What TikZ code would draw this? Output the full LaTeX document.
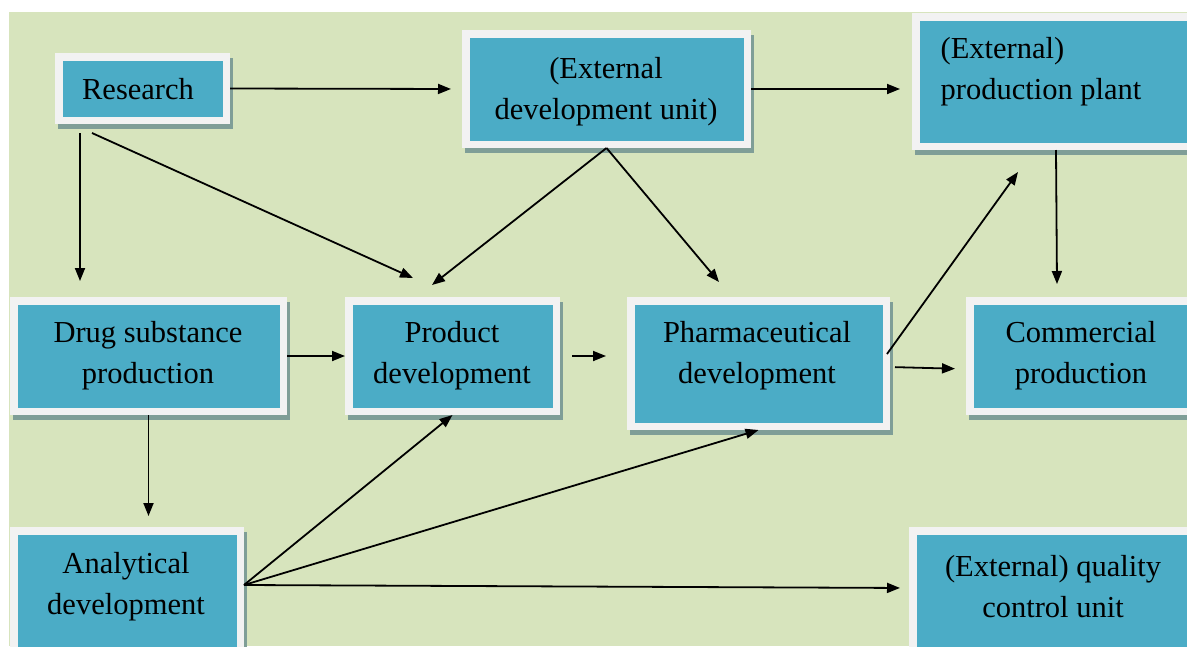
\documentclass[tikz,border=0pt]{standalone}
\usepackage{fontspec}
\setmainfont{Liberation Serif}
\usepackage{xcolor}
\usepackage{tikz}
\usetikzlibrary{arrows.meta,shadows}
\definecolor{bggreen}{HTML}{D7E4BD}
\definecolor{boxblue}{HTML}{4BACC6}
\definecolor{boxwhite}{HTML}{F2F2F2}
\definecolor{shadowc}{HTML}{7F9E97}
\tikzset{
	box/.style={draw=boxwhite, fill=boxblue, line width=7.5pt, inner sep=0pt,
		drop shadow={shadow xshift=3pt, shadow yshift=-5pt, fill=shadowc, draw=shadowc, line width=7.5pt, opacity=1}},
	txt/.style={align=center, font=\fontsize{30.5}{41}\selectfont},
	arr/.style={line width=1.8pt, -{Triangle[length=13pt,width=10pt]}}
}

\begin{document}
\begin{tikzpicture}[x=1pt, y=-1pt]
	\useasboundingbox (0,0) rectangle (1187,646);
	\clip (0,0) rectangle (1187,646);
	\fill[bggreen] (9,12) rectangle (1187,646);
	\node[box, minimum width=167.5pt, minimum height=63.5pt] (research) at (142.5,88.5) {};
	\node[box, minimum width=281.5pt, minimum height=110.5pt] (extdev) at (606.5,89) {};
	\node[box, minimum width=280.5pt, minimum height=129.5pt] (plant) at (1056,81.5) {};
	\node[box, minimum width=269.5pt, minimum height=110.5pt] (drug) at (148.5,356) {};
	\node[box, minimum width=207.5pt, minimum height=110.5pt] (product) at (452.5,356) {};
	\node[box, minimum width=255.5pt, minimum height=125.5pt] (pharma) at (758.5,363.5) {};
	\node[box, minimum width=226.5pt, minimum height=110.5pt] (commercial) at (1083,356) {};
	\node[box, minimum width=226.5pt, minimum height=125.5pt] (analytical) at (127,593.5) {};
	\node[box, minimum width=283.5pt, minimum height=125.5pt] (quality) at (1054.5,593.5) {};
	\node[txt] (researchtext) at (138,89) {Research};
	\node[txt] (extdevtext) at (606,92) {(External\\development unit)};
	\node[txt, align=left] (planttext) at (1041,72) {(External)\\production plant};
	\node[txt] (drugtext) at (148,356) {Drug substance\\production};
	\node[txt] (producttext) at (452,356) {Product\\development};
	\node[txt] (pharmatext) at (757,356) {Pharmaceutical\\development};
	\node[txt] (commercialtext) at (1081,356) {Commercial\\production};
	\node[txt] (analyticaltext) at (126,587) {Analytical\\development};
	\node[txt] (qualitytext) at (1053,587) {(External) quality\\control unit};
	\draw[arr, shorten >=11pt] (research.east) -- (extdev.west);
	\draw[arr, shorten >=12pt] (extdev.east) -- (extdev.east -| plant.west);
	\draw[arr, shorten <=9pt, shorten >=16pt] ([xshift=25pt]research.south west) -- ([xshift=25pt]research.south west |- drug.north);
	\draw[arr] ([shift={(37,9)}]research.south west) -- ([shift={(68,-19)}]product.north west);
	\draw[arr] (extdev.south) -- ([shift={(87,-12)}]product.north west);
	\draw[arr] (extdev.south) -- ([shift={(92,-15)}]pharma.north west);
	\draw[arr] (drug.east) -- (product.west);
	\draw[arr, shorten <=12pt, shorten >=21pt] (product.east) -- (product.east -| pharma.west);
	\draw[arr, shorten <=5pt, shorten >=11pt] ([yshift=-3.5pt]pharma.east) -- ([yshift=-13pt]commercial.west);
	\draw[arr] ([shift={(-3,-9.5)}]pharma.east) -- ([shift={(106,22)}]plant.south west);
	\draw[arr] (plant.south) -- ([shift={(-26,-13)}]commercial.north);
	\draw[arr, shorten >=11pt] (drug.south) -- (drug.south |- analytical.north);
	\draw[arr] ([yshift=8.5pt]analytical.east) -- (product.south);
	\draw[arr] ([yshift=8.5pt]analytical.east) -- (pharma.south);
	\draw[arr, shorten >=9pt] ([yshift=8.5pt]analytical.east) -- ([yshift=5.5pt]quality.west);
\end{tikzpicture}
\end{document}
